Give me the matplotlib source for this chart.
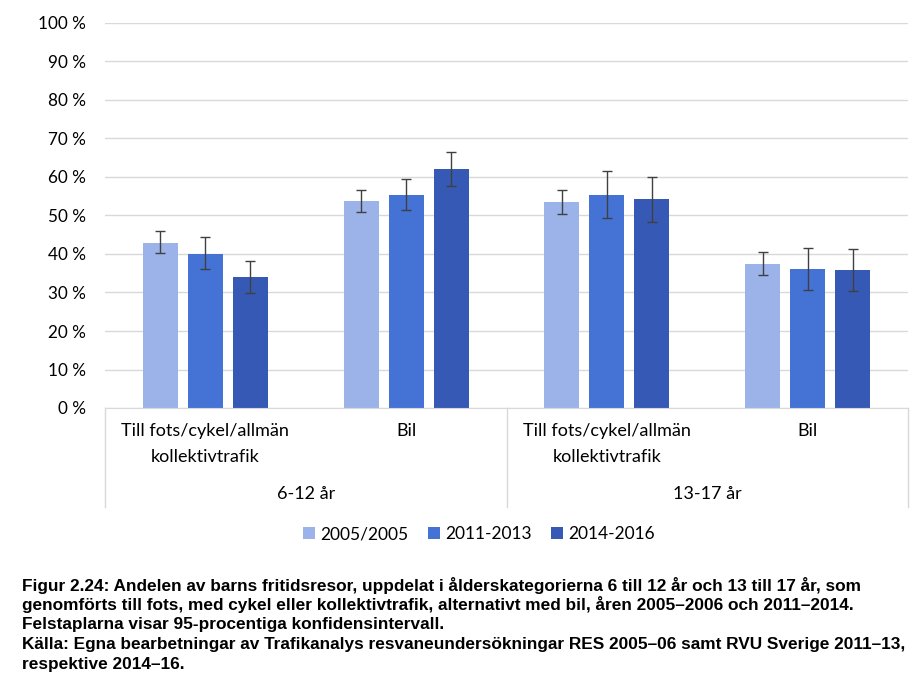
import matplotlib
matplotlib.use("Agg")
import matplotlib.pyplot as plt
import matplotlib.transforms as mtransforms
from matplotlib.patches import Patch
import numpy as np

categories = ["Till fots/cykel/allmän\nkollektivtrafik", "Bil",
              "Till fots/cykel/allmän\nkollektivtrafik", "Bil"]
age_groups = ["6-12 år", "13-17 år"]
series_names = ["2005/2005", "2011-2013", "2014-2016"]
values = {
    "2005/2005": [42.9, 53.8, 53.5, 37.4],
    "2011-2013": [40.0, 55.3, 55.3, 36.1],
    "2014-2016": [33.9, 62.0, 54.3, 35.8],
}
err_low = {
    "2005/2005": [40.2, 50.8, 50.3, 34.5],
    "2011-2013": [36.0, 51.3, 49.3, 30.6],
    "2014-2016": [29.8, 57.7, 48.2, 30.5],
}
err_high = {
    "2005/2005": [45.9, 56.7, 56.7, 40.4],
    "2011-2013": [44.3, 59.4, 61.5, 41.5],
    "2014-2016": [38.1, 66.4, 59.9, 41.2],
}
colors = ["#9BB3E8", "#4472D5", "#3559B4"]
caption_lines = [
    "Figur 2.24: Andelen av barns fritidsresor, uppdelat i ålderskategorierna 6 till 12 år och 13 till 17 år, som",
    "genomförts till fots, med cykel eller kollektivtrafik, alternativt med bil, åren 2005–2006 och 2011–2014.",
    "Felstaplarna visar 95-procentiga konfidensintervall.",
    "Källa: Egna bearbetningar av Trafikanalys resvaneundersökningar RES 2005–06 samt RVU Sverige 2011–13,",
    "respektive 2014–16.",
]

W, H = 916, 692
fig = plt.figure(figsize=(W / 100, H / 100), dpi=100)
fig.patch.set_facecolor("white")
ax = fig.add_axes([105 / W, (H - 408) / H, 803 / W, 385 / H])

font = "Lato"
x = np.arange(len(categories))
bw = 0.174
step = 0.224
for i, name in enumerate(series_names):
    v = np.array(values[name])
    lo = v - np.array(err_low[name])
    hi = np.array(err_high[name]) - v
    pos = x + (i - 1) * step
    ax.bar(pos, v, width=bw, color=colors[i], zorder=2, label=name)
    ax.errorbar(pos, v, yerr=[lo, hi], fmt="none", ecolor="#404040",
                elinewidth=1.0, capsize=3.8, capthick=1.0, zorder=3)

ax.set_xlim(-0.5, 3.5)
ax.set_ylim(0, 100)
ax.set_yticks(np.arange(0, 101, 10))
ax.set_yticklabels([f"{t} %" for t in range(0, 101, 10)], fontname=font, fontsize=12.3, color="#000000")
ax.yaxis.grid(True, color="#D9D9D9", linewidth=1.0, zorder=0)
ax.set_axisbelow(True)
ax.tick_params(axis="y", length=0, pad=14)
ax.tick_params(axis="x", length=0, labelbottom=False)
for s in ["top", "right", "left"]:
    ax.spines[s].set_visible(False)
ax.spines["bottom"].set_color("#D9D9D9")

trans = mtransforms.blended_transform_factory(ax.transData, ax.transAxes)
depth = -(507 - 408) / 385
for xv in [-0.5, 1.5, 3.5]:
    ax.plot([xv, xv], [0, depth], transform=trans, color="#D9D9D9", lw=1.0, clip_on=False)

for xi, lab in zip(x, categories):
    ax.text(xi, -(423 - 408) / 385, lab, transform=trans, ha="center", va="top",
            fontname=font, fontsize=13, linespacing=1.75)
for gi, g in enumerate(age_groups):
    ax.text(gi * 2 + 0.5, -(494 - 408) / 385, g, transform=trans, ha="center", va="center",
            fontname=font, fontsize=13)

handles = [Patch(facecolor=c, label=n) for c, n in zip(colors, series_names)]
fig.legend(handles=handles, loc="center", bbox_to_anchor=(479 / W, 1 - 534 / H), ncol=3,
           frameon=False, prop={"family": font, "size": 12.5}, handlelength=0.7,
           handleheight=0.7, handletextpad=0.3, columnspacing=1.1)

for li, line in enumerate(caption_lines):
    fig.text(22 / W, 1 - (585 + li * 19.8) / H, line, ha="left", va="center",
             fontname="Liberation Sans", fontweight="bold", fontsize=12.45)

fig.savefig("out.png", dpi=100)
